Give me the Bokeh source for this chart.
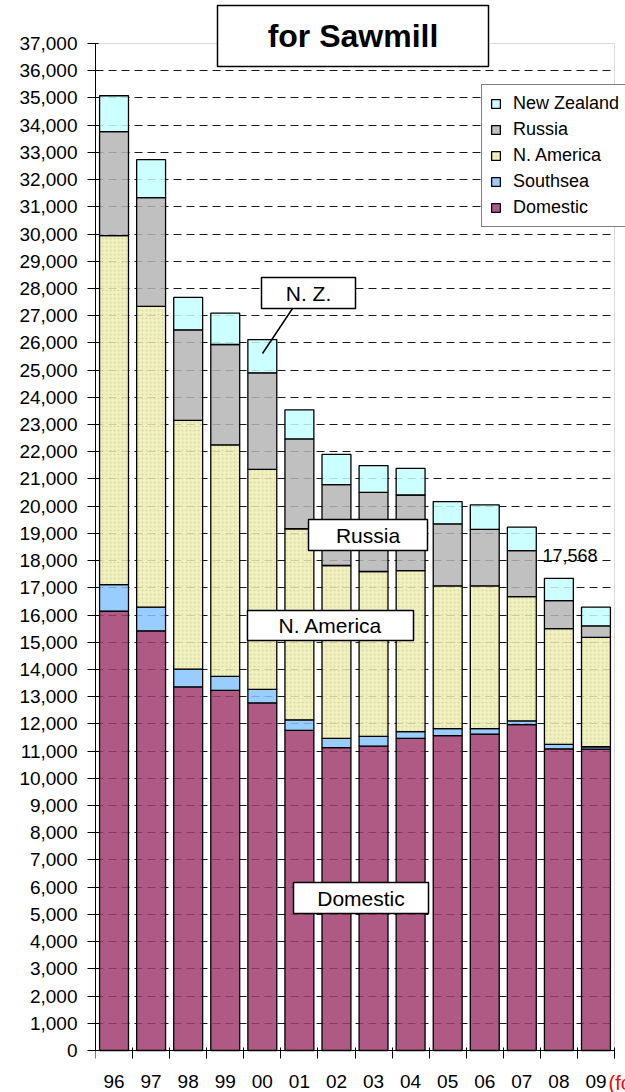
from bokeh.plotting import figure
from bokeh.models import (ColumnDataSource, Range1d, FixedTicker, NumeralTickFormatter,
                          Legend, LegendItem, BoxAnnotation, Label, Arrow)
from bokeh.embed import file_html
from bokeh.resources import INLINE

# ---------------- data ----------------
years = ["96", "97", "98", "99", "00", "01", "02", "03", "04", "05", "06", "07", "08", "09"]
domestic = [16140, 15420, 13360, 13230, 12770, 11760, 11130, 11180, 11470, 11570, 11620, 11970, 11080, 11070]
southsea = [980, 870, 650, 520, 500, 390, 340, 360, 250, 260, 210, 140, 170, 90]
n_america = [12820, 11050, 9140, 8500, 8080, 7020, 6350, 6060, 5910, 5240, 5240, 4570, 4250, 4020]
russia = [3820, 4000, 3330, 3690, 3550, 3300, 2970, 2910, 2780, 2280, 2080, 1690, 1030, 420]
new_zealand = [1320, 1390, 1190, 1150, 1220, 1070, 1110, 980, 980, 820, 900, 860, 820, 690]
series_keys = ["domestic", "southsea", "namerica", "russia", "nz"]
series_names = ["Domestic", "Southsea", "N. America", "Russia", "New Zealand"]
series_colors = ["#A03D6F", "#87C3FF", "#EEEEB5", "#B5B5B5", "#C3FFFF"]
y_max = 37000
y_ticks = list(range(0, y_max + 1, 1000))
x_pos = list(range(len(years)))

FONT = "Liberation Sans"

# ---------------- layout (pixels) ----------------
W, H = 625, 1092
LEFT = 95              # plot area left edge
RIGHT = 614            # plot area right edge
TOP = 43               # y of 37,000
BOTTOM = 1050          # y of 0
n = len(years)
px_per_x = (RIGHT - LEFT) / n
u_per_px = y_max / (BOTTOM - TOP)
x_lo = -0.5
x_hi = n - 0.5 + (W - RIGHT) / px_per_x
y_lo = -(H - BOTTOM) * u_per_px
y_hi = y_max + TOP * u_per_px


def dx(px):
    return (px - LEFT) / px_per_x - 0.5


def dy(py):
    return (BOTTOM - py) * u_per_px


source = ColumnDataSource(dict(x=x_pos, domestic=domestic, southsea=southsea,
                               namerica=n_america, russia=russia, nz=new_zealand))

p = figure(width=W, height=H, x_range=Range1d(x_lo, x_hi), y_range=Range1d(y_lo, y_hi),
           output_backend="svg", toolbar_location=None,
           min_border_left=LEFT, min_border_right=0, min_border_top=0, min_border_bottom=0)
p.background_fill_color = "white"
p.border_fill_color = "white"
p.outline_line_color = None

# grid
p.xgrid.visible = False
p.ygrid.ticker = FixedTicker(ticks=y_ticks[1:-1])
p.ygrid.grid_line_color = "#1a1a1a"
p.ygrid.grid_line_dash = "8 5"
p.ygrid.grid_line_width = 1
p.ygrid.cross_bounds = (-0.5, n - 0.5)

# plot-area border (gray)
p.add_layout(BoxAnnotation(left=-0.5, right=n - 0.5, bottom=0, top=y_max,
                           fill_color=None, line_color="#808080", line_width=1,
                           level="underlay"))

renderers = p.vbar_stack(series_keys, x="x", width=0.78, source=source,
                         fill_color=series_colors, fill_alpha=0.85,
                         line_color="black", line_width=1.3)
na = renderers[2].glyph
na.hatch_pattern = "dot"
na.hatch_color = "#c8c890"
na.hatch_scale = 4
na.hatch_alpha = 0.6

# y axis
ya = p.yaxis[0]
ya.ticker = FixedTicker(ticks=y_ticks)
ya.bounds = (0, y_max)
ya.formatter = NumeralTickFormatter(format="0,0")
ya.major_label_text_font = FONT
ya.major_label_text_font_size = "19px"
ya.major_label_text_color = "black"
ya.major_tick_out = 8
ya.major_tick_in = 3
ya.major_tick_line_color = "black"
ya.minor_tick_line_color = None
ya.major_label_standoff = 10
ya.axis_line_color = "black"

# x axis (drawn at y = 0)
xa = p.xaxis[0]
xa.fixed_location = 0
xa.bounds = (-0.5, n - 0.5)
xa.ticker = FixedTicker(ticks=x_pos, minor_ticks=[i - 0.5 for i in range(n + 1)])
xa.major_label_overrides = {i: y for i, y in enumerate(years)}
xa.major_tick_line_color = None
xa.major_tick_out = 8
xa.major_tick_in = 0
xa.minor_tick_out = 8
xa.minor_tick_in = 3
xa.minor_tick_line_color = "black"
xa.major_label_standoff = 16
xa.major_label_text_font = FONT
xa.major_label_text_font_size = "19px"
xa.major_label_text_color = "black"
xa.axis_line_color = "black"

# legend (top entry = top of stack)
items = [LegendItem(label=series_names[i], renderers=[renderers[i]]) for i in range(4, -1, -1)]
legend = Legend(items=items, location=(481 - LEFT, H - 227), margin=0, padding=8, spacing=5,
                glyph_width=11, glyph_height=11, label_standoff=12,
                label_text_font=FONT, label_text_font_size="18px", label_text_color="black",
                border_line_color="black", border_line_width=1,
                background_fill_color="white", background_fill_alpha=1)
p.add_layout(legend)


def boxed(x0, x1, y0, y1, text, size, bold=False):
    p.add_layout(BoxAnnotation(left=dx(x0), right=dx(x1), bottom=dy(y1), top=dy(y0),
                               fill_color="white", fill_alpha=1,
                               line_color="black", line_width=1.5, line_alpha=1))
    p.add_layout(Label(x=dx((x0 + x1) / 2), y=dy((y0 + y1) / 2), text=text,
                       text_align="center", text_baseline="middle",
                       text_font=FONT, text_font_size=size,
                       text_font_style="bold" if bold else "normal", text_color="black"))


# title box
boxed(217, 488, 5, 66, "for Sawmill", "32px", bold=True)

# series annotations
p.add_layout(Arrow(end=None, x_start=dx(292), y_start=dy(308), x_end=dx(262), y_end=dy(353),
                   line_color="black", line_width=1.5))
boxed(261, 355, 277, 308, "N. Z.", "21px")
boxed(308, 427, 519, 550, "Russia", "21px")
boxed(247, 413, 610, 640, "N. America", "21px")
boxed(293, 428, 882, 913, "Domestic", "21px")

p.add_layout(Label(x=dx(542), y=dy(555), text="17,568", text_align="left", text_baseline="middle",
                   text_font=FONT, text_font_size="18px", text_color="black"))

p.add_layout(Label(x=dx(608), y=dy(1082), text="(forecast)", text_align="left", text_baseline="middle",
                   text_font=FONT, text_font_size="20px", text_color="red"))

open("out.html", "w").write(file_html(p, INLINE))
